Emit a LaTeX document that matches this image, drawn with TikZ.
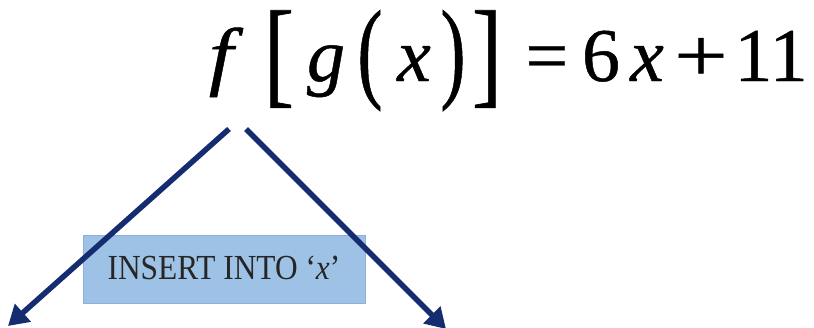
\documentclass[tikz,border=0pt]{standalone}
\usepackage{fontspec}
\setmainfont{Liberation Serif}
\newfontfamily\eqfont[FakeBold=0.6]{Liberation Serif}
\usetikzlibrary{arrows.meta}
\definecolor{navy}{RGB}{22,44,112}
\definecolor{boxblue}{RGB}{157,194,230}
\definecolor{boxedge}{RGB}{140,178,220}
\begin{document}
\begin{tikzpicture}[x=1pt,y=1pt,
  eq/.style={font=\eqfont\fontsize{76}{76}\selectfont, inner sep=0pt, anchor=base},
  arr/.style={draw=navy, line width=5.5pt, -{Triangle[length=20pt,width=23pt]}},
  insbox/.style={draw=boxedge, fill=boxblue, line width=0.8pt, minimum width=282pt,
    minimum height=68pt, inner sep=0pt, font=\fontsize{32}{32}\selectfont, text=black!85}]
\useasboundingbox (0,0) rectangle (814,-327);
% equation
\node[eq] (f) at (221,-81) {\itshape\scalebox{1.15}[1]{f}};
\node[eq] (lb) at (279,-92) {\scalebox{1.2}[1.55]{[}};
\node[eq] (g) at (326,-81) {\itshape g};
\node[eq] (lp) at (370,-87.5) {\scalebox{1}[1.47]{(}};
\node[eq] (x1) at (414,-81) {\itshape x};
\node[eq] (rp) at (453,-87.5) {\scalebox{1}[1.47]{)}};
\node[eq] (rb) at (487,-92) {\scalebox{1.2}[1.55]{]}};
\node[eq] (eqs) at (547,-81) {=};
\node[eq] (six) at (601,-81) {6};
\node[eq] (x2) at (647,-81) {\itshape x};
\node[eq] (plus) at (701,-81) {\scalebox{1.25}[1]{+}};
\node[eq] (eleven) at (771,-81) {11};
% box
\node[insbox] (ins) at (224,-269) {\raisebox{2pt}{\scalebox{0.98}[1.1]{INSERT INTO ‘\textit{x}’}}};
% arrows
\coordinate (ls) at (229,-129);
\coordinate (le) at (8,-326);
\coordinate (rs) at (246,-129);
\coordinate (re) at (446,-329);
\draw[arr] (ls) -- (le);
\draw[arr] (rs) -- (re);
\end{tikzpicture}
\end{document}
